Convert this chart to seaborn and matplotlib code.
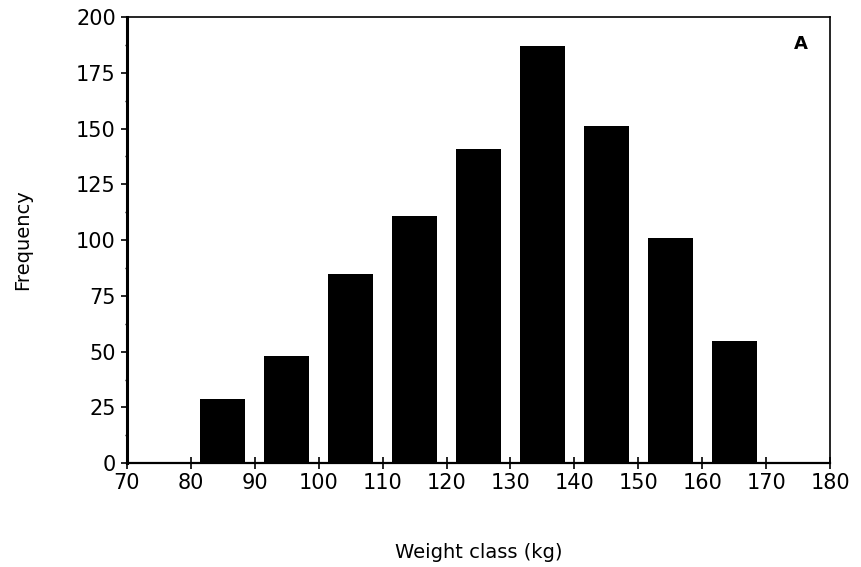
import matplotlib
matplotlib.use("Agg")
import matplotlib.pyplot as plt
import seaborn as sns
import pandas as pd
from matplotlib.ticker import MultipleLocator

# Gewichtsklassen (Klassenmitte, kg) und Häufigkeiten
weight_class = [85, 95, 105, 115, 125, 135, 145, 155, 165]
frequency = [29, 48, 85, 111, 141, 187, 151, 101, 55]

df = pd.DataFrame({"Weight": weight_class, "Frequency": frequency})

sns.set_style("ticks")
plt.rcParams["font.family"] = ["DejaVu Sans"]
plt.rcParams["text.color"] = "black"
plt.rcParams["axes.labelcolor"] = "black"

fig = plt.figure(figsize=(8.61, 5.67), dpi=100)
ax = fig.add_axes([0.1475, 0.183, 0.8165, 0.787])

sns.barplot(data=df, x="Weight", y="Frequency", native_scale=True,
            width=0.7, color="black", edgecolor="black", linewidth=0,
            saturation=1, ax=ax)

ax.set_xlim(70, 180)
ax.set_ylim(0, 200)
ax.set_xticks(range(70, 181, 10))
ax.set_yticks(range(0, 201, 25))
ax.yaxis.set_minor_locator(MultipleLocator(12.5))
ax.tick_params(axis="x", direction="inout", length=8, width=1.2,
               labelsize=15, pad=3, colors="black")
ax.tick_params(axis="y", direction="out", length=4, width=1.2,
               labelsize=15, pad=4, colors="black")
ax.tick_params(axis="y", which="minor", direction="out", length=1.5, width=1,
               colors="black")

for side, lw in [("left", 2.2), ("bottom", 1.6), ("top", 1.2), ("right", 1.2)]:
    ax.spines[side].set_visible(True)
    ax.spines[side].set_linewidth(lw)
    ax.spines[side].set_color("black")

ax.set_xlabel("Weight class (kg)", fontsize=14, labelpad=36, color="black")
ax.set_ylabel("Frequency", fontsize=14, labelpad=32, color="black")
ax.text(0.968, 0.96, "A", transform=ax.transAxes, ha="right", va="top",
        fontsize=13, fontweight="bold", color="black")

fig.savefig("out.png", dpi=100)
